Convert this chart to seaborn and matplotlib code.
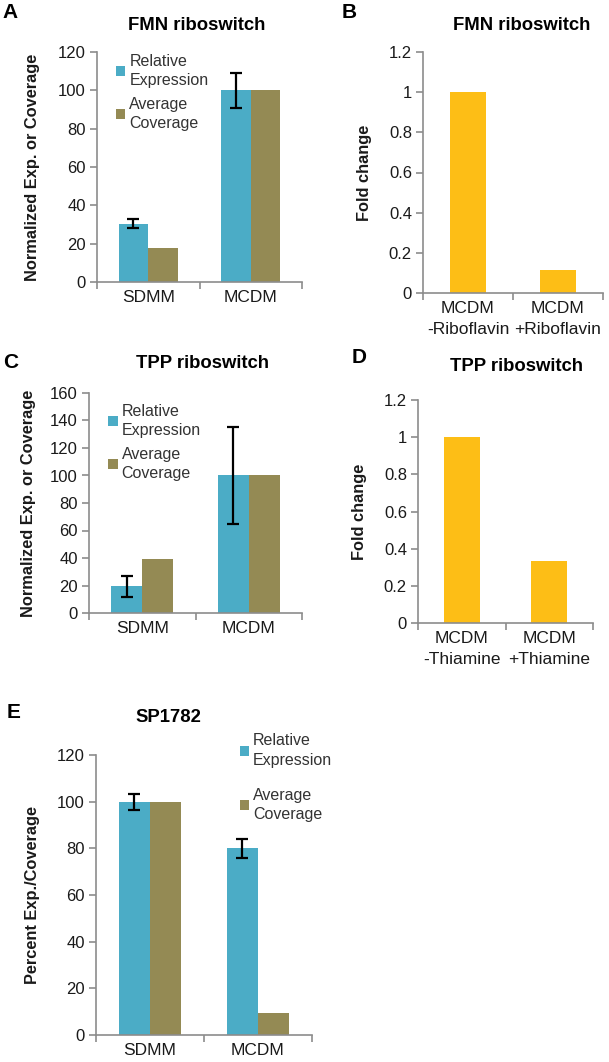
import matplotlib
matplotlib.use("Agg")
import matplotlib.pyplot as plt
import seaborn as sns
import pandas as pd
from matplotlib.patches import Patch

# ---------------- data ----------------
groups = ["SDMM", "MCDM"]
series = ["Relative\nExpression", "Average\nCoverage"]

fmn_rel = [30.5, 100]
fmn_rel_err = [2.5, 9]
fmn_cov = [17.5, 100]

tpp_rel = [19.5, 100]
tpp_rel_err = [7.5, 35]
tpp_cov = [39, 100]

sp_rel = [100, 80]
sp_rel_err = [3.5, 4]
sp_cov = [100, 9.5]

fmn_fold_labels = ["MCDM\n-Riboflavin", "MCDM\n+Riboflavin"]
fmn_fold = [1.0, 0.115]
tpp_fold_labels = ["MCDM\n-Thiamine", "MCDM\n+Thiamine"]
tpp_fold = [1.0, 0.333]

BLUE = "#4BACC6"
OLIVE = "#948A54"
GOLD = "#FDBE16"
SPINE = "#8C8C8C"
TXT = "#1a1a1a"

sns.set_theme(style="white")
plt.rcParams["font.family"] = ["Liberation Sans", "DejaVu Sans"]

W, H = 609, 1062
fig = plt.figure(figsize=(W / 100, H / 100), dpi=100)

TICK_FS = 12
XT_FS = 12.5
YLAB_FS = 11.8
LEG_FS = 11.5


def rect(l, r, t, b):
    return [l / W, 1 - b / H, (r - l) / W, (b - t) / H]


def style_axes(ax, ymax, ystep, ylabel, ylab_px, left_px, width_px, fmt=None):
    ax.set_xlim(-0.5, 1.5)
    ax.set_ylim(0, ymax)
    ticks = [round(i * ystep, 6) for i in range(int(round(ymax / ystep)) + 1)]
    ax.set_yticks(ticks)
    if fmt:
        ax.set_yticklabels([fmt(t) for t in ticks])
    for s in ["top", "right"]:
        ax.spines[s].set_visible(False)
    for s in ["left", "bottom"]:
        ax.spines[s].set_color(SPINE)
        ax.spines[s].set_linewidth(1.2)
    ax.tick_params(axis="y", which="major", direction="out", length=5, width=1.2,
                   color=SPINE, labelsize=TICK_FS, labelcolor=TXT, pad=3, left=True)
    ax.tick_params(axis="x", which="major", length=0, labelsize=XT_FS,
                   labelcolor=TXT, pad=6, bottom=True)
    for lab in ax.get_xticklabels():
        lab.set_linespacing(1.45)
    ax.set_xticks([-0.5, 0.5, 1.5], minor=True)
    ax.tick_params(axis="x", which="minor", direction="out", length=5, width=1.2,
                   color=SPINE, bottom=True)
    ax.set_xlabel("")
    ax.set_ylabel(ylabel, fontsize=YLAB_FS, fontweight="bold", color=TXT)
    ax.yaxis.set_label_coords((ylab_px - left_px) / width_px, 0.5)


def grouped(ax, rel, err, cov):
    df = pd.DataFrame({
        "group": groups * 2,
        "series": [series[0]] * 2 + [series[1]] * 2,
        "value": list(rel) + list(cov),
    })
    sns.barplot(data=df, x="group", y="value", hue="series", order=groups,
                hue_order=series, palette=[BLUE, OLIVE], width=0.58, gap=0,
                saturation=1, errorbar=None, ax=ax, edgecolor="none")
    cont = ax.containers[0]
    xs = [p.get_x() + p.get_width() / 2 for p in cont]
    ax.errorbar(xs, rel, yerr=err, fmt="none", ecolor="black", elinewidth=1.6,
                capsize=4, capthick=1.6, zorder=5)


def legend(ax, loc, anchor, spacing=0.9):
    handles = [Patch(facecolor=BLUE, edgecolor="none"),
               Patch(facecolor=OLIVE, edgecolor="none")]
    leg = ax.legend(handles, series, loc=loc, bbox_to_anchor=anchor, frameon=False,
                    fontsize=LEG_FS, handlelength=0.6, handleheight=0.6,
                    handletextpad=0.25, labelspacing=spacing, borderaxespad=0,
                    labelcolor="#333333")
    for t in leg.get_texts():
        t.set_linespacing(1.35)


def fold(ax, labels, vals):
    df = pd.DataFrame({"cond": labels, "value": vals})
    sns.barplot(data=df, x="cond", y="value", order=labels, color=GOLD,
                saturation=1, width=0.41, errorbar=None, ax=ax, edgecolor="none")


def fmt_fold(t):
    if t == 0:
        return "0"
    if abs(t - 1) < 1e-9:
        return "1"
    return f"{t:.1f}"


# Panel A
axA = fig.add_axes(rect(97, 302, 52, 282))
grouped(axA, fmn_rel, fmn_rel_err, fmn_cov)
style_axes(axA, 120, 20, "Normalized Exp. or Coverage", 40, 97, 205)
legend(axA, "upper left", (0.06, 1.02), 0.55)

# Panel B
axB = fig.add_axes(rect(423, 603, 52, 293))
fold(axB, fmn_fold_labels, fmn_fold)
style_axes(axB, 1.2, 0.2, "Fold change", 372, 423, 180, fmt_fold)

# Panel C
axC = fig.add_axes(rect(89, 302, 393, 613))
grouped(axC, tpp_rel, tpp_rel_err, tpp_cov)
style_axes(axC, 160, 20, "Normalized Exp. or Coverage", 36, 89, 213)
legend(axC, "upper left", (0.06, 0.98), 0.55)

# Panel D
axD = fig.add_axes(rect(418, 593, 400, 623))
fold(axD, tpp_fold_labels, tpp_fold)
style_axes(axD, 1.2, 0.2, "Fold change", 367, 418, 175, fmt_fold)

# Panel E
axE = fig.add_axes(rect(96, 312, 755, 1035))
grouped(axE, sp_rel, sp_rel_err, sp_cov)
style_axes(axE, 120, 20, "Percent Exp./Coverage", 40, 96, 216)
legend(axE, "upper left", (0.635, 1.1), 1.25)

# Titles and panel letters
def ftext(x, y, s, **kw):
    fig.text(x / W, 1 - y / H, s, **kw)

tkw = dict(fontsize=13.3, fontweight="bold", color="black", ha="center", va="center")
ftext(197, 25, "FMN riboswitch", **tkw)
ftext(522, 25, "FMN riboswitch", **tkw)
ftext(202, 363, "TPP riboswitch", **tkw)
ftext(517, 367, "TPP riboswitch", **tkw)
ftext(168, 718, "SP1782", **tkw)

lkw = dict(fontsize=15, fontweight="bold", color="black", ha="left", va="center")
ftext(2, 13, "A", **lkw)
ftext(342, 13, "B", **lkw)
ftext(3, 362, "C", **lkw)
ftext(352, 357, "D", **lkw)
ftext(7, 713, "E", **lkw)

fig.savefig("out.png", dpi=100, facecolor="white")
